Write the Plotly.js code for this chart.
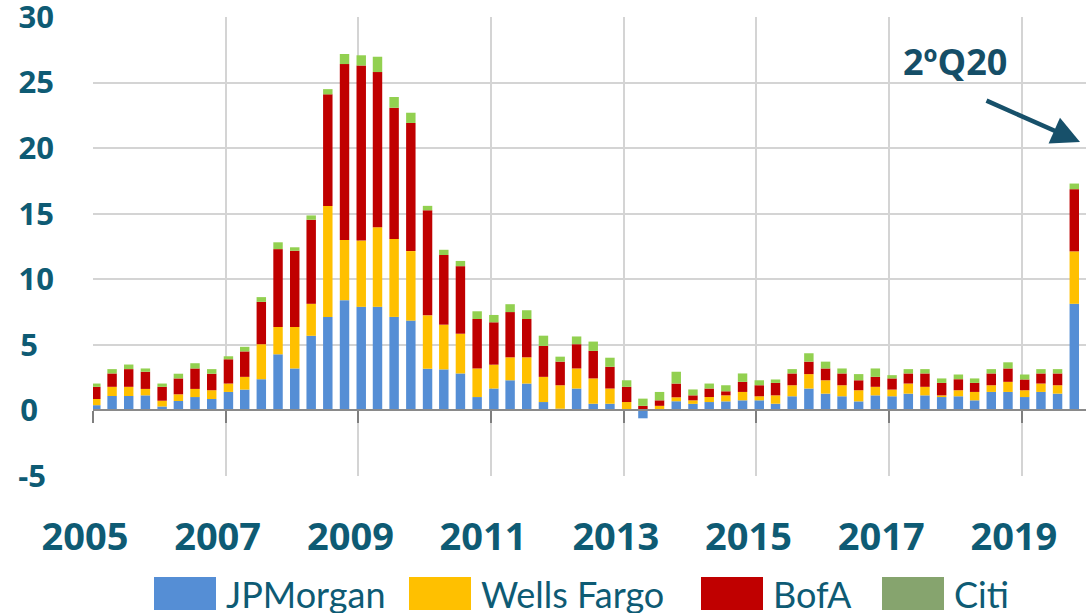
<!DOCTYPE html>
<html>
<head>
<meta charset="utf-8">
<script src="https://cdn.plot.ly/plotly-3.0.1.min.js"></script>
<style>
  html, body { margin: 0; padding: 0; background: #ffffff; }
  #chart { width: 1086px; height: 613px; }
</style>
</head>
<body>
<div id="chart"></div>
<script>
// ---- data ----
const years = [2005,2006,2007,2008,2009,2010,2011,2012,2013,2014,2015,2016,2017,2018,2019];
const quarterMonths = ['01','04','07','10'];
const periods = [];
years.forEach(y => quarterMonths.forEach(m => periods.push(y + '-' + m)));

const seriesNames = ['JPMorgan', 'Wells Fargo', 'BofA', 'Citi'];

const jpmorgan = [0.4,1.1,1.1,1.15,0.3,0.72,1.02,0.87,1.41,1.59,
  2.38,4.28,3.2,5.69,7.13,8.41,7.9,7.9,7.13,6.85,
  3.18,3.13,2.82,1.02,1.67,2.3,2.05,0.64,0.13,1.67,
  0.51,0.51,0,-0.6,0.05,0.7,0.5,0.64,0.69,0.77,
  0.77,0.51,1.08,1.67,1.28,1.08,0.69,1.15,1.08,1.28,
  1.15,1.02,1.08,0.77,1.41,1.41,1.02,1.41,1.28,8.13];
const wellsFargo = [0.47,0.7,0.7,0.49,0.44,0.51,0.62,0.67,0.64,0.97,
  2.67,2.08,3.16,2.44,8.46,4.59,5.05,6.07,5.95,5.3,
  4.07,3.41,3.03,2.18,1.82,1.75,2.0,1.92,1.79,1.53,
  1.93,1.16,0.64,0.05,0.3,0.3,0.27,0.38,0.46,0.64,
  0.31,0.64,0.84,1.1,1.02,0.84,0.85,0.65,0.51,0.77,
  0.65,0.13,0.46,0.64,0.51,0.77,0.52,0.64,0.64,4.0];
const bofa = [0.93,1.02,1.35,1.31,1.06,1.21,1.56,1.26,1.85,1.94,
  3.23,5.94,5.82,6.41,8.51,13.41,13.35,11.83,10.0,9.77,
  8.01,5.31,5.15,3.77,3.23,3.45,2.92,2.36,1.8,1.85,
  2.1,1.66,1.16,0.3,0.42,1.05,0.38,0.65,0.31,0.77,
  0.84,0.95,0.9,0.95,0.9,0.9,0.76,0.76,0.85,0.77,
  1.02,0.95,0.84,0.69,0.9,1.02,0.82,0.77,0.9,4.74];
const citi = [0.25,0.33,0.35,0.25,0.25,0.36,0.4,0.35,0.23,0.35,
  0.36,0.52,0.26,0.33,0.4,0.77,0.78,1.17,0.82,0.78,
  0.34,0.4,0.4,0.59,0.56,0.6,0.67,0.78,0.38,0.59,
  0.71,0.69,0.5,0.55,0.64,0.9,0.45,0.38,0.46,0.64,
  0.38,0.26,0.33,0.64,0.52,0.38,0.47,0.64,0.25,0.33,
  0.33,0.34,0.36,0.34,0.33,0.47,0.38,0.33,0.33,0.43];

const xTickYears = [2005,2007,2009,2011,2013,2015,2017,2019];
const yTickValues = [-5,0,5,10,15,20,25,30];
const annotationText = '2ºQ20';

// ---- styles ----
const barColors = ['#558ED5', '#FFC000', '#C00000', '#92D050'];
const swatchColors = ['#558ED5', '#FFC000', '#C00000', '#86A46E'];
const textColor = '#0E5B74';
const arrowColor = '#17506A';

const W = 1086, H = 613;
const M = {l: 93, r: 0, t: 17, b: 137};
const PW = W - M.l - M.r, PH = H - M.t - M.b;
const px = v => (v - M.l) / PW;
const py = v => (H - M.b - v) / PH;

const DAY = 86400000;
const seriesValues = [jpmorgan, wellsFargo, bofa, citi];

const traces = seriesValues.map((vals, i) => ({
  type: 'bar',
  name: seriesNames[i],
  x: periods,
  y: vals,
  xperiod: 'M1',
  xperiodalignment: 'middle',
  width: 52 * DAY,
  marker: {color: barColors[i], line: {width: 0}},
  showlegend: false,
  hoverinfo: 'x+y+name'
}));

const padLabel = s => s.length === 1 ? s + '\u00A0\u00A0' : (s.length === 2 && s[0] === '-' ? s + '\u00A0' : s);

// custom legend (large swatches like the reference)
const swatchX = [154, 409, 701, 882];
const swatchW = 62;
const legendTop = 577, legendBottom = 610, legendMid = 594;
const shapes = seriesNames.map((n, i) => ({
  type: 'rect', xref: 'paper', yref: 'paper',
  x0: px(swatchX[i]), x1: px(swatchX[i] + swatchW),
  y0: py(legendBottom), y1: py(legendTop),
  fillcolor: swatchColors[i], line: {width: 0}
}));
const annotations = seriesNames.map((n, i) => ({
  xref: 'paper', yref: 'paper',
  x: px(swatchX[i] + swatchW + 8), y: py(legendMid),
  xanchor: 'left', yanchor: 'middle',
  text: n, showarrow: false,
  font: {family: 'Lato, sans-serif', size: 36, color: textColor}
}));
annotations.push({
  xref: 'paper', yref: 'paper',
  x: px(955), y: py(62), xanchor: 'center', yanchor: 'middle',
  text: '<b>' + annotationText + '</b>', showarrow: false,
  font: {family: 'Open Sans, sans-serif', size: 36, color: '#154E67'}
});
annotations.push({
  xref: 'paper', yref: 'paper',
  x: px(1080), y: py(142),
  ax: -95, ay: -42,
  text: '', showarrow: true,
  arrowhead: 2, arrowsize: 1.25, arrowwidth: 4.5, arrowcolor: arrowColor
});

const layout = {
  width: W, height: H,
  margin: M,
  paper_bgcolor: '#ffffff',
  plot_bgcolor: '#ffffff',
  barmode: 'relative',
  showlegend: false,
  xaxis: {
    type: 'date',
    range: ['2005-01-01', '2019-12-20'],
    tickmode: 'array',
    tickvals: xTickYears.map(y => y + '-01-01'),
    ticktext: xTickYears.map(String),
    showgrid: true, gridcolor: '#D4D4D4', gridwidth: 2,
    anchor: 'free', position: 5 / 35,
    showline: true, linecolor: '#8A8A8A', linewidth: 2,
    ticks: 'outside', ticklen: 12, tickwidth: 2, tickcolor: '#7F7F7F',
    ticklabelstandoff: 81,
    ticklabelshift: -8,
    ticklabeloverflow: 'allow',
    tickfont: {family: 'Open Sans, sans-serif', size: 38, weight: 'bold', color: textColor},
    zeroline: false,
    fixedrange: true
  },
  yaxis: {
    range: [-5, 30],
    tickmode: 'array',
    tickvals: yTickValues,
    ticktext: yTickValues.map(v => padLabel(String(v))),
    showgrid: true, gridcolor: '#D4D4D4', gridwidth: 2,
    zeroline: false, showline: false,
    ticks: '',
    ticklabelstandoff: 38,
    ticklabeloverflow: 'allow',
    tickfont: {family: 'Open Sans, sans-serif', size: 31, weight: 'bold', color: textColor},
    fixedrange: true
  },
  shapes: shapes,
  annotations: annotations
};

Plotly.newPlot('chart', traces, layout, {displayModeBar: false, staticPlot: true});
</script>
</body>
</html>
